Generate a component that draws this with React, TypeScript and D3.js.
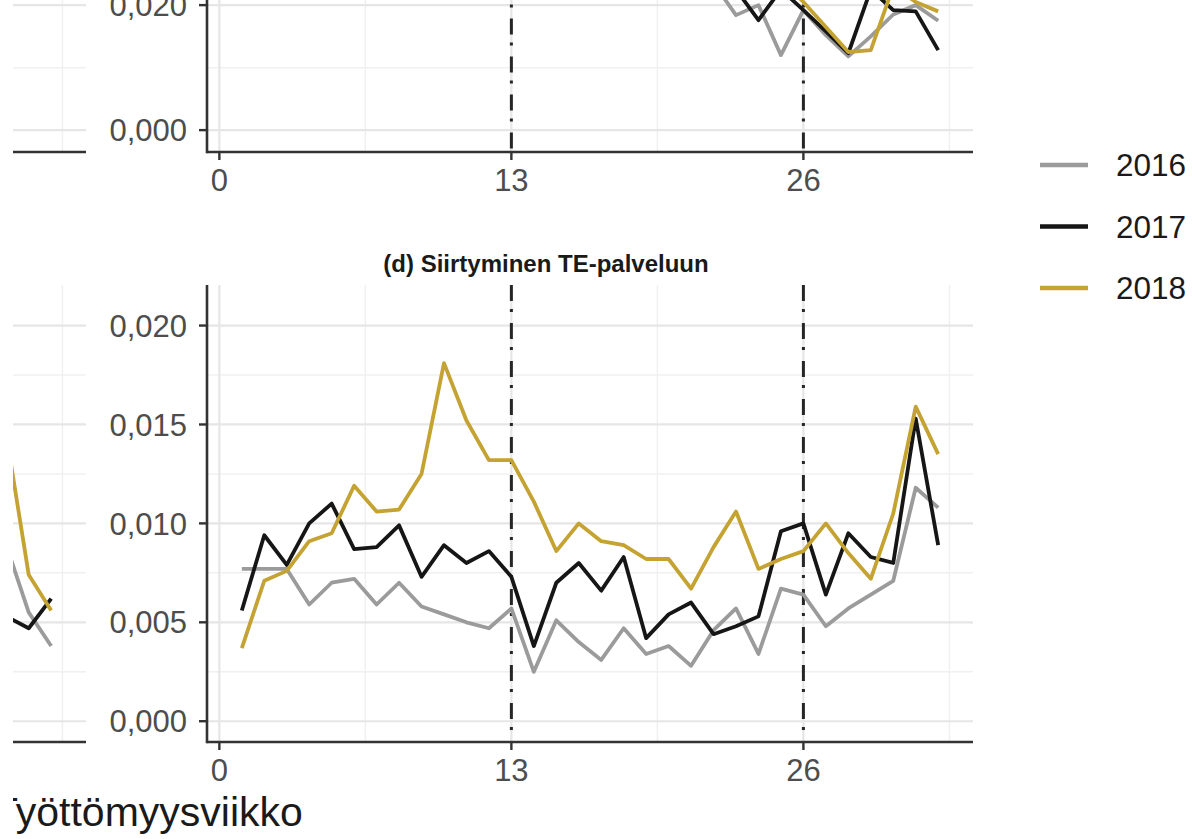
import React from "react";
import * as d3 from "d3";

// ---- data ----
const seriesNames = ["2016", "2017", "2018"];
const seriesColors = ["#9b9b9b", "#161616", "#c4a333"];

// panel (d) Siirtyminen TE-palveluun, weeks 1..32
const weeksD = [1, 2, 3, 4, 5, 6, 7, 8, 9, 10, 11, 12, 13, 14, 15, 16, 17, 18, 19, 20, 21, 22, 23, 24, 25, 26, 27, 28, 29, 30, 31, 32];
const d2016 = [0.0077, 0.0077, 0.0077, 0.0059, 0.007, 0.0072, 0.0059, 0.007, 0.0058, 0.0054, 0.005, 0.0047, 0.0057, 0.0025, 0.0051, 0.004, 0.0031, 0.0047, 0.0034, 0.0038, 0.0028, 0.0046, 0.0057, 0.0034, 0.0067, 0.0064, 0.0048, 0.0057, 0.0064, 0.0071, 0.0118, 0.0108];
const d2017 = [0.0056, 0.0094, 0.0079, 0.01, 0.011, 0.0087, 0.0088, 0.0099, 0.0073, 0.0089, 0.008, 0.0086, 0.0073, 0.0038, 0.007, 0.008, 0.0066, 0.0083, 0.0042, 0.0054, 0.006, 0.0044, 0.0048, 0.0053, 0.0096, 0.01, 0.0064, 0.0095, 0.0083, 0.008, 0.0153, 0.0089];
const d2018 = [0.0037, 0.0071, 0.0076, 0.0091, 0.0095, 0.0119, 0.0106, 0.0107, 0.0125, 0.0181, 0.0152, 0.0132, 0.0132, 0.0111, 0.0086, 0.01, 0.0091, 0.0089, 0.0082, 0.0082, 0.0067, 0.0088, 0.0106, 0.0077, 0.0082, 0.0086, 0.01, 0.0085, 0.0072, 0.0105, 0.0159, 0.0135];

// panel (c), only the lower edge is visible: weeks 22..32
const weeksC = [22, 23, 24, 25, 26, 27, 28, 29, 30, 31, 32];
const c2016 = [0.0235, 0.0184, 0.02, 0.012, 0.0192, 0.0152, 0.0118, 0.015, 0.0185, 0.02, 0.0175];
const c2017 = [0.025, 0.0225, 0.0176, 0.0225, 0.0192, 0.0158, 0.0123, 0.0225, 0.0192, 0.019, 0.0128];
const c2018 = [0.026, 0.025, 0.024, 0.024, 0.0205, 0.0165, 0.0125, 0.0128, 0.023, 0.0205, 0.019];

// lower-left panel, only its right edge is visible: weeks 29..32
const weeksL = [29, 30, 31, 32];
const l2016 = [0.011, 0.0089, 0.0055, 0.0038];
const l2017 = [0.006, 0.0053, 0.0047, 0.0062];
const l2018 = [0.02, 0.0145, 0.0074, 0.0056];

const xTicks = [0, 13, 26];
const xMinor = [6.5, 19.5, 32.5];
const yTicksD = [0, 0.005, 0.01, 0.015, 0.02];
const yMinorD = [0.0025, 0.0075, 0.0125, 0.0175];
const yTicksC = [0, 0.02, 0.04, 0.06];
const yMinorC = [0.01, 0.03, 0.05];
const vLines = [13, 26];

const title = "(d) Siirtyminen TE-palveluun";
const xTitle = "Työttömyysviikko";

const FONT = "'Liberation Sans', Arial, sans-serif";
const fmt = (v: number) => d3.format(".3f")(v).replace(".", ",");

type Series = { weeks: number[]; values: number[]; color: string };

function Panel({ id, x, y, yMajor, yMinor, series, yLabels, xLabels, dash }: {
  id: string; x: d3.ScaleLinear<number, number>; y: d3.ScaleLinear<number, number>;
  yMajor: number[]; yMinor: number[]; series: Series[]; yLabels: boolean; xLabels: boolean; dash: boolean;
}) {
  const [x0, x1] = x.range();
  const [yb, yt] = y.range();
  const line = d3.line<[number, number]>().x(d => x(d[0])).y(d => y(d[1]));
  return (
    <g>
      <defs>
        <clipPath id={id}><rect x={x0} y={yt} width={x1 - x0} height={yb - yt} /></clipPath>
      </defs>
      {yMinor.map(v => <line key={"ym" + v} x1={x0} x2={x1} y1={y(v)} y2={y(v)} stroke="#f0f0f0" strokeWidth={1.5} />)}
      {xMinor.map(v => <line key={"xm" + v} x1={x(v)} x2={x(v)} y1={yt} y2={yb} stroke="#f0f0f0" strokeWidth={1.5} />)}
      {yMajor.map(v => <line key={"yM" + v} x1={x0} x2={x1} y1={y(v)} y2={y(v)} stroke="#e6e6e6" strokeWidth={2.2} />)}
      {xTicks.map(v => <line key={"xM" + v} x1={x(v)} x2={x(v)} y1={yt} y2={yb} stroke="#e6e6e6" strokeWidth={2.2} />)}
      {dash && vLines.map(v => (
        <line key={"vl" + v} x1={x(v)} x2={x(v)} y1={yt} y2={yb} stroke="#262626" strokeWidth={3} strokeDasharray="16,8,3,11" />
      ))}
      <g clipPath={`url(#${id})`}>
        {series.map((s, i) => (
          <path key={i} d={line(s.weeks.map((w, k) => [w, s.values[k]] as [number, number])) || ""}
            fill="none" stroke={s.color} strokeWidth={3.8} strokeLinejoin="round" />
        ))}
      </g>
      {/* axes */}
      <line x1={x0} x2={x1} y1={yb} y2={yb} stroke="#333" strokeWidth={2.6} />
      <line x1={x0} x2={x0} y1={yt} y2={yb + 1.3} stroke="#333" strokeWidth={2.6} />
      {yMajor.map(v => <line key={"yt" + v} x1={x0 - 8} x2={x0} y1={y(v)} y2={y(v)} stroke="#333" strokeWidth={2.4} />)}
      {xTicks.map(v => <line key={"xt" + v} x1={x(v)} x2={x(v)} y1={yb} y2={yb + 8} stroke="#333" strokeWidth={2.4} />)}
      {yLabels && yMajor.map(v => (
        <text key={"yl" + v} x={x0 - 20} y={y(v)} dy="0.36em" textAnchor="end" fontSize={31} fill="#4d4d4d" fontFamily={FONT}>{fmt(v)}</text>
      ))}
      {xLabels && xTicks.map(v => (
        <text key={"xl" + v} x={x(v)} y={yb + 28} dy="0.36em" textAnchor="middle" fontSize={31} fill="#4d4d4d" fontFamily={FONT}>{v}</text>
      ))}
    </g>
  );
}

export default function App() {
  const xDomain = [-0.55, 33.55];
  const xMain = d3.scaleLinear().domain(xDomain).range([207, 973]);
  const xLeft = d3.scaleLinear().domain(xDomain).range([-680, 86]);
  const yBottom = d3.scaleLinear().domain([-0.00105, 0.02205]).range([742, 285]);
  const yTop = d3.scaleLinear().domain([-0.0035, 0.0665]).range([152, -285.5]);

  const mk = (w: number[], vals: number[][]): Series[] => vals.map((v, i) => ({ weeks: w, values: v, color: seriesColors[i] }));

  return (
    <div style={{ position: "absolute", left: 0, top: 0 }}>
      <svg width={1192} height={839} style={{ display: "block", background: "#fff" }}>
        <Panel id="cl" x={xLeft} y={yTop} yMajor={yTicksC} yMinor={yMinorC} series={[]} yLabels={false} xLabels={false} dash={false} />
        <Panel id="c" x={xMain} y={yTop} yMajor={yTicksC} yMinor={yMinorC} series={mk(weeksC, [c2016, c2017, c2018])} yLabels={true} xLabels={true} dash={true} />
        <Panel id="dl" x={xLeft} y={yBottom} yMajor={yTicksD} yMinor={yMinorD} series={mk(weeksL, [l2016, l2017, l2018])} yLabels={false} xLabels={false} dash={false} />
        <Panel id="d" x={xMain} y={yBottom} yMajor={yTicksD} yMinor={yMinorD} series={mk(weeksD, [d2016, d2017, d2018])} yLabels={true} xLabels={true} dash={true} />

        <text x={546} y={263} dy="0.36em" textAnchor="middle" fontSize={24} fontWeight="bold" fill="#1a1a1a" fontFamily={FONT}>{title}</text>
        <text x={-7} y={826} fontSize={41} fill="#1a1a1a" fontFamily={FONT}>{xTitle}</text>

        {/* white strip at the cropped left edge */}
        <rect x={0} y={0} width={13} height={839} fill="#fff" />

        {seriesNames.map((n, i) => (
          <g key={n} transform={`translate(0, ${165 + i * 61.5})`}>
            <line x1={1040} x2={1088} y1={0} y2={0} stroke={seriesColors[i]} strokeWidth={4.5} />
            <text x={1116} y={0} dy="0.36em" fontSize={31.5} fill="#1a1a1a" fontFamily={FONT}>{n}</text>
          </g>
        ))}
      </svg>
    </div>
  );
}
